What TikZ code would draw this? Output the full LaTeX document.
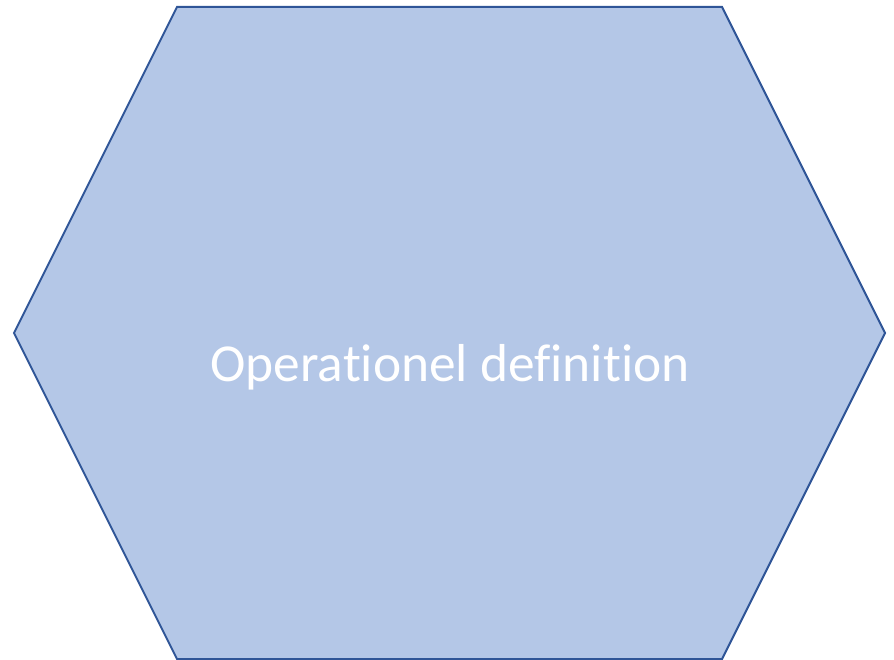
\documentclass[tikz,border=0pt]{standalone}
\usepackage{fontspec}
\setmainfont{Carlito}[Ligatures={NoCommon}]
\definecolor{hexfill}{HTML}{B4C7E7}
\definecolor{hexline}{HTML}{2F5597}
\begin{document}
\begin{tikzpicture}[x=1pt,y=-1pt,
  hexstyle/.style={fill=hexfill,draw=hexline,line width=2pt,line join=miter},
  labelstyle/.style={text=white,font=\fontsize{53.4}{60}\selectfont,inner sep=0pt,anchor=base}]
\useasboundingbox (0,0) rectangle (894,660);
\draw[hexstyle] (177,7) -- (722,7) -- (885,333) -- (722,659) -- (177,659) -- (14,333) -- cycle;
\node[labelstyle] (lbl) at (450,381) {Operationel definition};
\end{tikzpicture}
\end{document}
